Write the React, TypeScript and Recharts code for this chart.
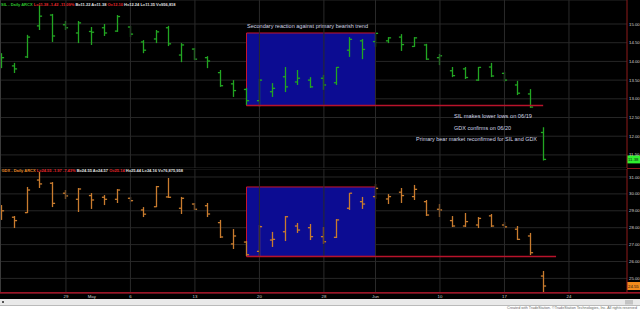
import React from 'react';
import { ComposedChart, Bar, XAxis, YAxis, CartesianGrid, ReferenceArea, ReferenceLine } from 'recharts';

// trading days shown (last six are empty future slots on the right)
const dates = [
  '2013-04-22', '2013-04-23', '2013-04-24', '2013-04-25', '2013-04-26',
  '2013-04-29', '2013-04-30', '2013-05-01', '2013-05-02', '2013-05-03',
  '2013-05-06', '2013-05-07', '2013-05-08', '2013-05-09', '2013-05-10',
  '2013-05-13', '2013-05-14', '2013-05-15', '2013-05-16', '2013-05-17',
  '2013-05-20', '2013-05-21', '2013-05-22', '2013-05-23', '2013-05-24',
  '2013-05-28', '2013-05-29', '2013-05-30', '2013-05-31',
  '2013-06-03', '2013-06-04', '2013-06-05', '2013-06-06', '2013-06-07',
  '2013-06-10', '2013-06-11', '2013-06-12', '2013-06-13', '2013-06-14',
  '2013-06-17', '2013-06-18', '2013-06-19', '2013-06-20',
  '2013-06-21', '2013-06-24', '2013-06-25', '2013-06-26', '2013-06-27', '2013-06-28',
];

const silOpen = [14.05, 13.88, 14.12, 14.95, 15.24, 14.98, 14.76, 14.8, 14.9, 14.81, 14.92, 14.52, 14.6, 14.9, 14.17, 14.33, 14.1, 13.7, 13.4, 13.25, 12.95, 13.19, 13.59, 13.45, 13.5, 13.55, 13.43, 14.3, 14.55, 14.53, 14.55, 14.65, 14.4, 14.44, 14.1, 13.75, 13.8, 13.5, 13.85, 13.68, 13.37, 13.13, 12.1];
const silHigh = [14.22, 13.96, 14.71, 15.51, 15.27, 15.08, 15.08, 14.92, 15.0, 15.24, 14.95, 14.57, 14.84, 14.95, 14.49, 14.36, 14.14, 13.77, 13.5, 13.29, 13.53, 13.42, 13.85, 13.77, 13.58, 13.64, 13.85, 14.65, 14.6, 14.76, 14.65, 14.73, 14.65, 14.47, 14.2, 13.85, 13.85, 13.85, 13.96, 13.72, 13.48, 13.26, 12.24];
const silLow = [13.82, 13.69, 14.09, 14.84, 14.52, 14.84, 14.49, 14.44, 14.68, 14.79, 14.65, 14.22, 14.49, 14.41, 13.98, 14.04, 13.82, 13.32, 13.05, 12.83, 12.78, 13.05, 13.18, 13.37, 13.29, 13.24, 13.37, 14.12, 14.06, 14.39, 14.49, 14.28, 14.39, 14.04, 13.9, 13.58, 13.53, 13.48, 13.58, 13.45, 13.1, 12.76, 11.35];
const silClose = [14.1, 13.8, 14.65, 15.21, 14.68, 14.9, 15.03, 14.78, 14.76, 15.2, 14.73, 14.3, 14.79, 14.47, 14.44, 14.06, 14.01, 13.35, 13.22, 12.95, 13.5, 13.28, 13.32, 13.55, 13.32, 13.37, 13.84, 14.59, 14.32, 14.75, 14.63, 14.45, 14.63, 14.06, 14.15, 13.62, 13.57, 13.84, 13.61, 13.5, 13.15, 12.78, 11.38];

const gdxOpen = [29.1, 28.62, 28.89, 30.82, 30.63, 30.04, 29.68, 29.9, 29.8, 29.68, 29.74, 29.05, 29.24, 29.82, 29.15, 29.4, 29.3, 28.3, 27.04, 27.15, 26.6, 27.27, 27.76, 28.1, 28.0, 27.47, 27.43, 29.15, 29.54, 29.84, 29.7, 30.1, 29.84, 29.54, 29.09, 28.42, 28.1, 28.16, 28.7, 28.16, 27.91, 27.51, 25.14];
const gdxHigh = [29.34, 28.69, 30.41, 31.3, 30.7, 30.23, 30.35, 30.05, 29.93, 30.29, 29.82, 29.22, 30.47, 30.94, 29.82, 29.46, 29.46, 28.46, 27.92, 27.21, 28.16, 27.75, 28.69, 28.28, 28.22, 28.04, 28.51, 30.05, 29.82, 30.59, 29.99, 30.35, 30.53, 29.64, 29.4, 28.69, 28.87, 28.63, 28.81, 28.34, 28.1, 27.69, 25.44];
const gdxLow = [28.46, 27.98, 28.87, 30.35, 29.22, 29.7, 28.93, 29.11, 29.34, 29.46, 29.52, 28.63, 29.22, 29.76, 28.81, 29.05, 28.63, 27.39, 26.74, 26.33, 26.27, 26.86, 27.21, 27.69, 27.27, 27.04, 27.39, 29.05, 29.11, 29.7, 29.4, 29.46, 29.64, 28.69, 28.63, 28.04, 28.04, 27.98, 28.04, 27.98, 27.27, 26.38, 24.16];
const gdxClose = [29.0, 28.42, 30.23, 30.59, 29.44, 29.88, 30.29, 29.64, 29.68, 30.23, 29.6, 28.8, 30.43, 29.8, 29.74, 29.09, 28.81, 27.45, 27.51, 26.4, 28.06, 27.31, 28.65, 27.86, 27.47, 27.17, 28.46, 30.04, 29.4, 30.33, 29.84, 29.9, 30.27, 28.75, 29.05, 28.1, 28.36, 28.55, 28.1, 28.05, 27.31, 26.52, 24.55];

const tickDates = ['2013-04-29', '2013-05-01', '2013-05-06', '2013-05-13', '2013-05-20', '2013-05-28', '2013-06-03', '2013-06-10', '2013-06-17', '2013-06-24'];
const tickLabels = ['29', 'May', '6', '13', '20', '28', 'Jun', '10', '17', '24'];
const gridDates = ['2013-04-29', '2013-05-06', '2013-05-13', '2013-05-20', '2013-05-28', '2013-06-03', '2013-06-10', '2013-06-17', '2013-06-24'];

const silTicks = [11.5, 12, 12.5, 13, 13.5, 14, 14.5, 15];
const gdxTicks = [25, 26, 27, 28, 29, 30, 31];

// reaction box and support lines
const boxDates = ['2013-05-17', '2013-06-03'];
const silBoxRange = [12.82, 14.76];
const gdxBoxRange = [26.3, 30.41];
const silSupportEnd = '2013-06-20';
const gdxSupportEnd = '2013-06-21';

const rows = dates.map((date, i) => ({
  date,
  i,
  silO: silOpen[i] ?? null,
  silH: silHigh[i] ?? null,
  silL: silLow[i] ?? null,
  silC: silClose[i] ?? null,
  gdxO: gdxOpen[i] ?? null,
  gdxH: gdxHigh[i] ?? null,
  gdxL: gdxLow[i] ?? null,
  gdxC: gdxClose[i] ?? null,
}));

const idx = (d: string) => dates.indexOf(d);
const FONT = '"Liberation Sans", Arial, sans-serif';
const RED = '#e8282c';
const WHITE = '#e0e0e0';

function ohlcShape(color: string, p: string) {
  return (props: any) => {
    const { x, y, width, height, payload } = props;
    const hi = payload[p + 'H'];
    const lo = payload[p + 'L'];
    if (hi == null || x == null) return <g />;
    const top = Math.min(y, y + height);
    const bot = Math.max(y, y + height);
    const py = (v: number) => (hi === lo ? top : top + ((hi - v) / (hi - lo)) * (bot - top));
    const cx = Math.floor(x + width / 2) + 0.5;
    const oy = py(payload[p + 'O']);
    const cy = py(payload[p + 'C']);
    return (
      <g stroke={color} strokeWidth={1.3}>
        <line x1={cx} x2={cx} y1={top} y2={bot} />
        <line x1={cx - 2.6} x2={cx} y1={oy} y2={oy} />
        <line x1={cx} x2={cx + 2.6} y1={cy} y2={cy} />
      </g>
    );
  };
}

function PriceTag(props: any) {
  const { viewBox, fill, text } = props;
  if (!viewBox) return null;
  const x = viewBox.x + viewBox.width;
  const y = viewBox.y;
  return (
    <g>
      <rect x={x} y={y - 4} width={13} height={8} fill={fill} />
      <text x={x + 1} y={y + 1.6} fontSize={4.3} fill="#101010" fontFamily={FONT}>{text}</text>
    </g>
  );
}

function panel(cfg: {
  p: string; color: string; height: number; domain: number[]; ticks: number[];
  boxRange: number[]; supportEnd: string; last: number; tagFill: string; showDates: boolean;
}) {
  return (
    <ComposedChart width={645} height={cfg.height} data={rows} margin={{ top: 0, right: 0, bottom: 0, left: 0 }}>
      <CartesianGrid vertical={false} stroke="#262626" />
      <XAxis
        dataKey="date"
        hide={!cfg.showDates}
        ticks={tickDates}
        interval={0}
        height={7}
        tickFormatter={(v: string) => tickLabels[tickDates.indexOf(v)] ?? ''}
        tick={{ fontSize: 4.3, fill: '#d2d2d2', fontFamily: FONT }}
        tickLine={false}
        axisLine={false}
        tickSize={1}
        tickMargin={1}
      />
      <XAxis xAxisId="idx" type="number" dataKey="i" domain={[-0.5, dates.length - 0.5]} allowDataOverflow hide />
      <YAxis
        orientation="right"
        width={13}
        domain={cfg.domain}
        allowDataOverflow
        ticks={cfg.ticks}
        interval={0}
        tickFormatter={(v: number) => v.toFixed(2)}
        tick={{ fontSize: 4.3, fill: '#d8d8d8', fontFamily: FONT }}
        tickLine={false}
        tickSize={0}
        tickMargin={2}
        axisLine={{ stroke: '#8e1b1b' }}
      />
      {gridDates.map((d) => (
        <ReferenceLine key={d} xAxisId="idx" x={idx(d)} stroke="#2a2a2a" />
      ))}
      <ReferenceArea
        xAxisId="idx"
        x1={idx(boxDates[0])}
        x2={idx(boxDates[1])}
        y1={cfg.boxRange[0]}
        y2={cfg.boxRange[1]}
        fill="#0c0c92"
        fillOpacity={1}
        stroke="#c8142e"
        strokeWidth={1}
      />
      <ReferenceLine
        xAxisId="idx"
        segment={[
          { x: idx(boxDates[0]), y: cfg.boxRange[0] },
          { x: idx(cfg.supportEnd), y: cfg.boxRange[0] },
        ]}
        stroke="#b8132b"
        strokeWidth={1.6}
      />
      <Bar
        dataKey={(d: any) => (d[cfg.p + 'H'] == null ? null : [d[cfg.p + 'L'], d[cfg.p + 'H']])}
        shape={ohlcShape(cfg.color, cfg.p)}
        isAnimationActive={false}
      />
      <ReferenceLine
        y={cfg.last}
        stroke="none"
        label={<PriceTag fill={cfg.tagFill} text={cfg.last.toFixed(2)} />}
      />
    </ComposedChart>
  );
}

export default function App() {
  const note = '#d2d6e6';
  const silLast = silClose[silClose.length - 1];
  const gdxLast = gdxClose[gdxClose.length - 1];
  return (
    <div style={{ position: 'relative', width: 640, height: 311, background: '#000', overflow: 'hidden' }}>
      <style>{'body{margin:0}'}</style>
      <div style={{ position: 'absolute', left: -5, top: 0 }}>
        {panel({
          p: 'sil', color: '#22a622', height: 168, domain: [11.15, 15.642], ticks: silTicks,
          boxRange: silBoxRange, supportEnd: silSupportEnd, last: silLast, tagFill: '#2ff02f', showDates: false,
        })}
      </div>
      <div style={{ position: 'absolute', left: -5, top: 169 }}>
        {panel({
          p: 'gdx', color: '#c97c2e', height: 131, domain: [24.136, 31.473], ticks: gdxTicks,
          boxRange: gdxBoxRange, supportEnd: gdxSupportEnd, last: gdxLast, tagFill: '#f08a1c', showDates: true,
        })}
      </div>
      <svg width={640} height={311} style={{ position: 'absolute', left: 0, top: 0, pointerEvents: 'none' }}>
        <line x1={0.5} x2={0.5} y1={0} y2={293} stroke="#3a3a3a" />
        <line x1={627} x2={640} y1={168.5} y2={168.5} stroke="#8e1b1b" />
        <rect x={0} y={292} width={640} height={1.6} fill="#9c1426" />
        <rect x={0} y={299} width={640} height={6.5} fill="#e9e9e9" />
        <rect x={2} y={301} width={2} height={2} fill="#555" />
        <rect x={625} y={300} width={8} height={4.5} fill="#c4c4c4" />
        <rect x={0} y={305.5} width={640} height={6} fill="#ffffff" />
        <text x={637} y={309.3} fontSize={3.8} fill="#666" textAnchor="end" fontFamily={FONT} textLength={130} lengthAdjust="spacingAndGlyphs">
          Created with TradeStation. ©TradeStation Technologies, Inc. All rights reserved
        </text>

        <text x={1} y={5.8} fontSize={4} fill={WHITE} fontFamily={FONT} fontWeight="bold">
          <tspan fill="#2ec42e">SIL - Daily ARCX </tspan>
          <tspan fill={RED}>L=11.38 -1.42 -11.09% </tspan>
          <tspan>B=11.22 A=11.38 </tspan>
          <tspan fill={RED}>O=12.10 </tspan>
          <tspan>H=12.24 L=11.35 V=956,818</tspan>
        </text>
        <text x={1.5} y={172.3} fontSize={4} fill={WHITE} fontFamily={FONT} fontWeight="bold">
          <tspan fill="#ea8c2a">GDX - Daily ARCX </tspan>
          <tspan fill={RED}>L=24.55 -1.97 -7.43% </tspan>
          <tspan>B=24.55 A=24.57 </tspan>
          <tspan fill={RED}>O=25.14 </tspan>
          <tspan>H=25.44 L=24.16 V=76,875,958</tspan>
        </text>

        <text x={247} y={28} fontSize={5.8} fill={note} fontFamily={FONT} textLength={121} lengthAdjust="spacingAndGlyphs">
          Secondary reaction against primary bearish trend
        </text>
        <text x={454} y={118} fontSize={5.8} fill={note} fontFamily={FONT} textLength={78} lengthAdjust="spacingAndGlyphs">
          SIL makes lower lows on 06/19
        </text>
        <text x={454} y={129.5} fontSize={5.8} fill={note} fontFamily={FONT} textLength={57} lengthAdjust="spacingAndGlyphs">
          GDX confirms on 06/20
        </text>
        <text x={416} y={141} fontSize={5.8} fill={note} fontFamily={FONT} textLength={121} lengthAdjust="spacingAndGlyphs">
          Primary bear market reconfirmed for SIL and GDX
        </text>
      </svg>
    </div>
  );
}
